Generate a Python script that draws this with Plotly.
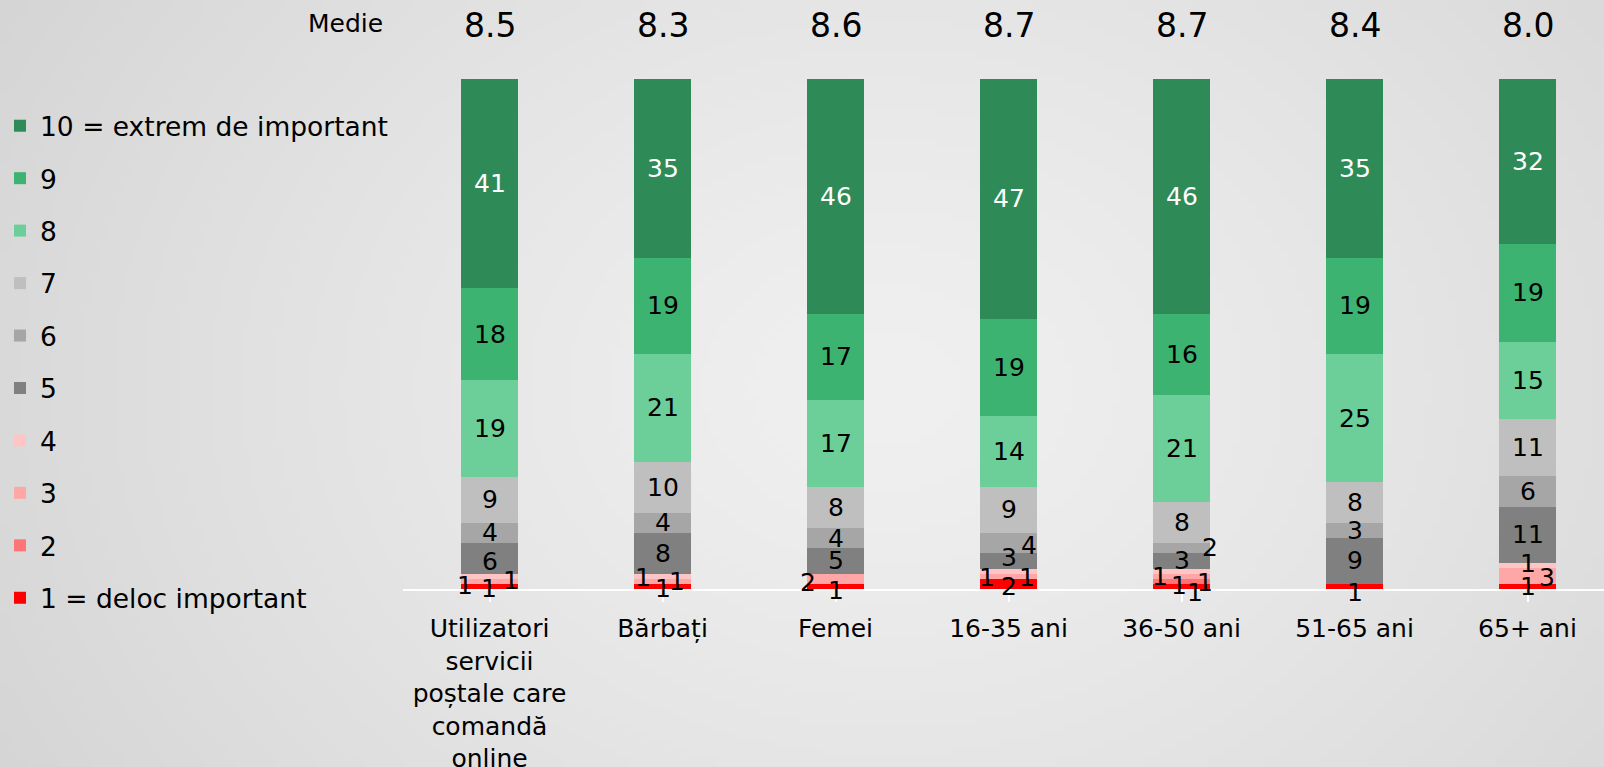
import base64
import struct
import zlib

import numpy as np
import plotly.graph_objects as go

# ---- data -------------------------------------------------------------
categories = [
    "Utilizatori<br>servicii<br>poștale care<br>comandă<br>online",
    "Bărbați",
    "Femei",
    "16-35 ani",
    "36-50 ani",
    "51-65 ani",
    "65+ ani",
]
means = ["8.5", "8.3", "8.6", "8.7", "8.7", "8.4", "8.0"]

levels = ["1 = deloc important", "2", "3", "4", "5", "6", "7", "8", "9",
          "10 = extrem de important"]

score_1 = [1, 1, 1, 2, 1, 1, 1]
score_2 = [0, 0, 0, 0, 1, 0, 0]
score_3 = [1, 1, 2, 1, 1, 0, 3]
score_4 = [1, 1, 0, 1, 1, 0, 1]
score_5 = [6, 8, 5, 3, 3, 9, 11]
score_6 = [4, 4, 4, 4, 2, 3, 6]
score_7 = [9, 10, 8, 9, 8, 8, 11]
score_8 = [19, 21, 17, 14, 21, 25, 15]
score_9 = [18, 19, 17, 19, 16, 19, 19]
score_10 = [41, 35, 46, 47, 46, 35, 32]

series = [score_1, score_2, score_3, score_4, score_5,
          score_6, score_7, score_8, score_9, score_10]

# ---- styling ----------------------------------------------------------
colors = ["#FF0000", "#FF7575", "#FFA7A7", "#FFC5C5", "#808080",
          "#A6A6A6", "#BFBFBF", "#6CCF9A", "#3CB371", "#2E8B57"]
FONT = "DejaVu Sans, Verdana, sans-serif"

W, H = 1604, 767
ML, MR, MT, MB = 403, 0, 79, 178
PW, PH = W - ML - MR, H - MT - MB
SLOT = 173  # pixel width of one category slot

# nudges (px) for labels of thin segments: (category, level index) -> (dx, dy)
label_nudge = {
    (0, 0): (-25, 1), (0, 2): (-1, -7), (0, 3): (21, -4), (0, 4): (0, -3),
    (1, 0): (0, -2), (1, 2): (-20, 4), (1, 3): (14, -5),
    (2, 0): (0, -4), (2, 2): (-28, -4),
    (3, 0): (0, -3), (3, 2): (-22, -1), (3, 3): (18, -6), (3, 4): (0, 3),
    (3, 5): (20, -2),
    (4, 0): (13, -6), (4, 1): (-3, -4), (4, 2): (-22, 0), (4, 3): (23, -11),
    (4, 5): (28, 1),
    (5, 0): (0, -6),
    (6, 0): (0, 0), (6, 2): (19, -1), (6, 3): (0, 2),
}


def gradient_png(w, h):
    yy, xx = np.mgrid[0:h, 0:w].astype(float)
    d = np.sqrt(((xx - w * 0.55) / (w * 0.58)) ** 2 +
                ((yy - h * 0.5) / (h * 0.95)) ** 2)
    v = np.clip(240 - 24 * d ** 1.3, 0, 255).astype(np.uint8)
    img = np.stack([v, v, v], axis=-1)
    raw = b"".join(b"\x00" + row.tobytes() for row in img)

    def chunk(tag, data):
        c = struct.pack(">I", len(data)) + tag + data
        return c + struct.pack(">I", zlib.crc32(tag + data) & 0xFFFFFFFF)

    png = (b"\x89PNG\r\n\x1a\n" +
           chunk(b"IHDR", struct.pack(">IIBBBBB", w, h, 8, 2, 0, 0, 0)) +
           chunk(b"IDAT", zlib.compress(raw, 9)) +
           chunk(b"IEND", b""))
    return "data:image/png;base64," + base64.b64encode(png).decode()


fig = go.Figure()
x_idx = list(range(len(categories)))

for i, (name, vals) in enumerate(zip(levels, series)):
    fig.add_trace(go.Bar(
        x=x_idx, y=vals, name=name, marker_color=colors[i],
        marker_line_width=0, legendgroup=name, legendrank=100 - i,
        hoverinfo="skip",
    ))

# segment value labels
totals = [sum(s[c] for s in series) for c in x_idx]
for c in x_idx:
    cum = 0
    for i, vals in enumerate(series):
        v = vals[c]
        if v > 0:
            mid = (cum + v / 2) / totals[c] * 100
            dx, dy = label_nudge.get((c, i), (0, 0))
            fig.add_annotation(
                x=c, y=mid, xref="x", yref="y", text=str(v), showarrow=False,
                xshift=dx, yshift=dy,
                font=dict(family=FONT, size=25,
                          color="white" if i == 9 else "black"),
            )
        cum += v

# mean row above the bars
fig.add_annotation(
    x=(385 - ML) / PW, y=1 + (MT - 24) / PH, xref="paper", yref="paper",
    text="Medie", showarrow=False, xanchor="right", yanchor="middle",
    font=dict(family=FONT, size=25, color="black"),
)
for c, m in zip(x_idx, means):
    fig.add_annotation(
        x=c, y=1 + (MT - 26) / PH, xref="x", yref="paper", text=m,
        showarrow=False, yanchor="middle",
        font=dict(family=FONT, size=33, color="black"),
    )

fig.add_layout_image(
    source=gradient_png(200, 96), xref="paper", yref="paper",
    x=-ML / PW, y=1 + MT / PH, sizex=W / PW, sizey=H / PH,
    xanchor="left", yanchor="top", sizing="stretch", layer="below",
)

fig.update_layout(
    width=W, height=H,
    margin=dict(l=ML, r=MR, t=MT, b=MB, autoexpand=False),
    barmode="stack", barnorm="percent", bargap=0.665,
    paper_bgcolor="#dedede", plot_bgcolor="rgba(0,0,0,0)",
    font=dict(family=FONT, size=26, color="black"),
    showlegend=True,
    legend=dict(
        x=(0 - ML) / PW, xanchor="left", y=1 + (MT - 102) / PH, yanchor="top",
        traceorder="grouped", tracegroupgap=15, maxheight=720,
        font=dict(family=FONT, size=26.5, color="black"),
        bgcolor="rgba(0,0,0,0)", itemwidth=30,
    ),
    xaxis=dict(
        range=[-0.5, -0.5 + PW / SLOT], tickmode="array", tickvals=x_idx,
        ticktext=categories, showline=True, linecolor="white", linewidth=2,
        ticks="outside", tickson="boundaries", ticklen=11, tickcolor="white",
        tickwidth=2, showgrid=False, zeroline=False, fixedrange=True,
        automargin=False, ticklabelstandoff=5,
        tickfont=dict(family=FONT, size=25, color="black"),
    ),
    yaxis=dict(range=[0, 100], visible=False, showgrid=False,
               zeroline=False, fixedrange=True, automargin=False),
)

fig.write_html("out.html")
